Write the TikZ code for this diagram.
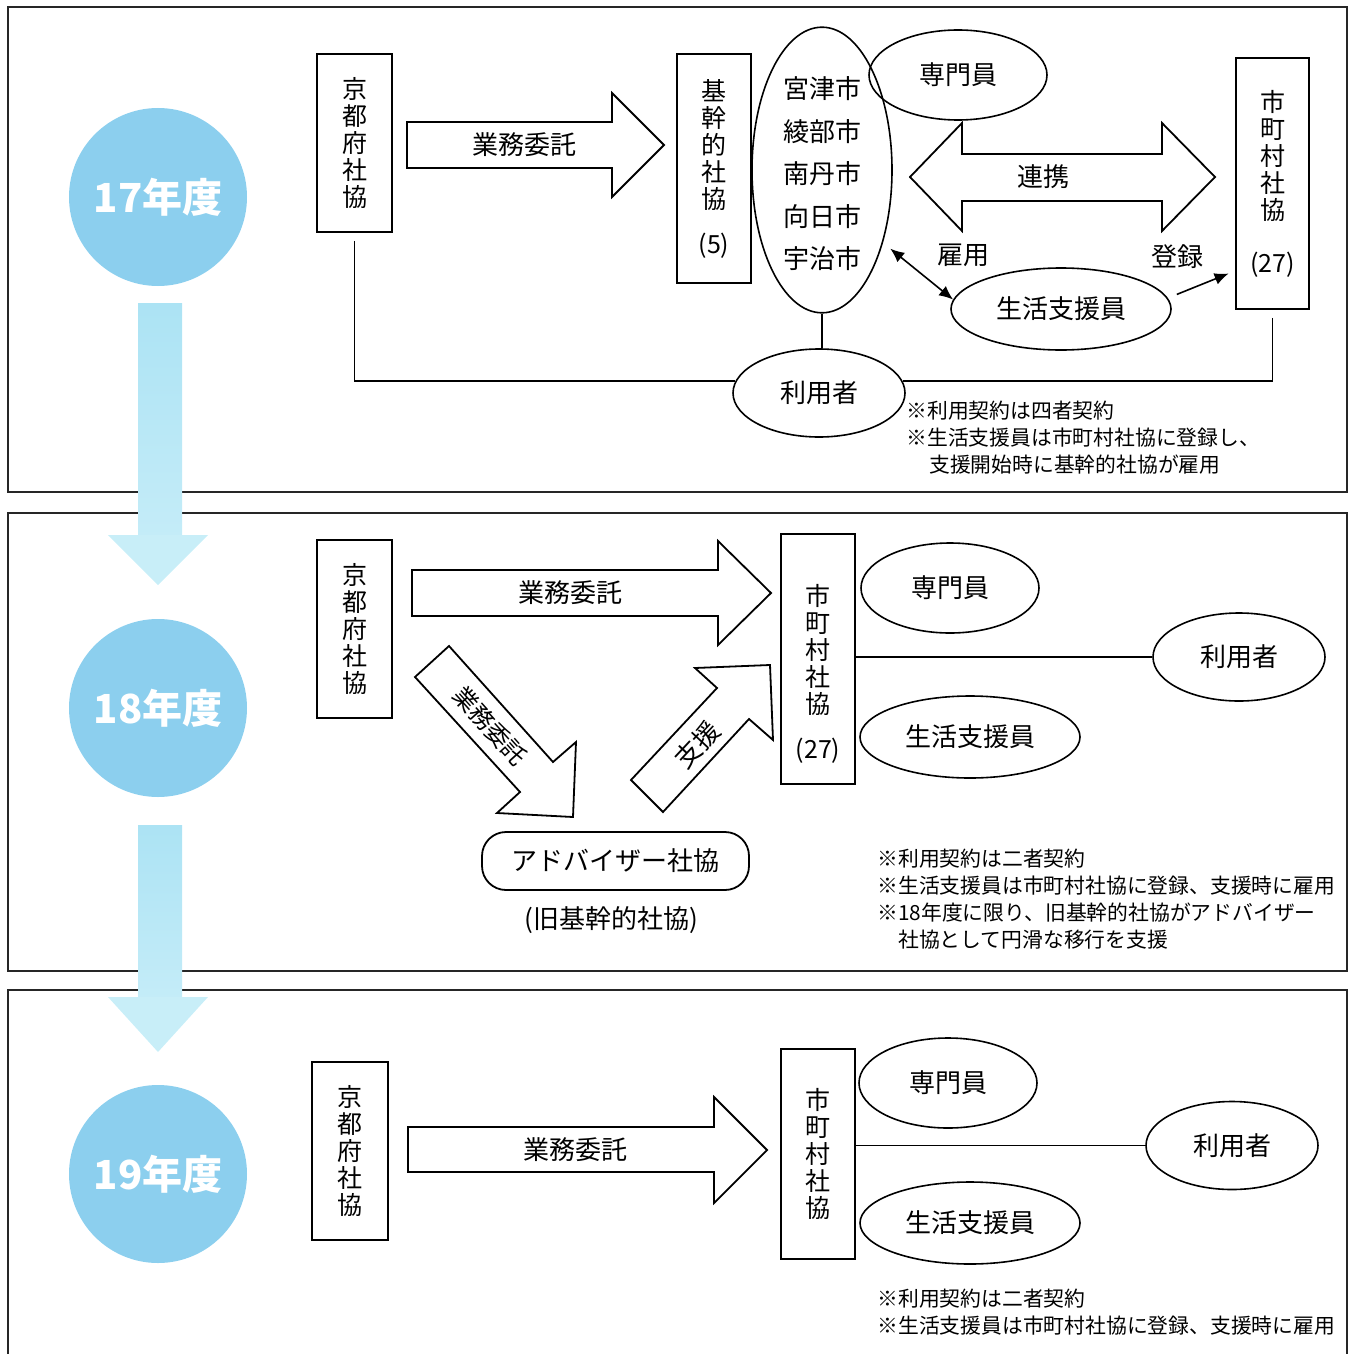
\documentclass[tikz,border=0pt]{standalone}
\usepackage{fontspec}
\setmainfont{Noto Sans CJK JP}
\usetikzlibrary{shapes.geometric,arrows.meta,calc}
\definecolor{yearblue}{HTML}{8CCFEE}
\definecolor{coltop}{HTML}{ACE3F4}
\definecolor{colbot}{HTML}{C4ECF8}
\definecolor{headblue}{HTML}{C8EEF8}
\begin{document}
\begin{tikzpicture}[x=0.5pt,y=-0.5pt,
  frame/.style={draw=black!85,line width=1pt},
  vbox/.style={draw,line width=0.9pt,fill=white,inner sep=0pt,align=center,font=\fontsize{12.5}{13.5}\selectfont},
  oval/.style={draw,ellipse,line width=0.8pt,inner sep=0pt,font=\fontsize{13}{15}\selectfont},
  bigarr/.style={draw,line width=0.9pt,fill=white,line join=miter},
  lbl/.style={font=\fontsize{13}{15}\selectfont,inner sep=0pt},
  note/.style={font=\fontsize{10.4}{13.5}\selectfont,align=left,inner sep=0pt,anchor=north west},
  yearc/.style={circle,fill=yearblue,minimum size=89pt,text=white,inner sep=0pt,font=\fontsize{20}{22}\selectfont\bfseries},
  conn/.style={line width=0.8pt},
  tip/.style={line width=0.8pt,-{Latex[length=7pt,width=6pt]}},
  dbltip/.style={line width=0.8pt,{Latex[length=7pt,width=6pt]}-{Latex[length=7pt,width=6pt]}},
  adv/.style={draw,rounded corners=12pt,line width=0.9pt,minimum width=133.5pt,minimum height=29pt,inner sep=0pt,font=\fontsize{13}{15}\selectfont}
]
\useasboundingbox (0,0) rectangle (1354,1354);
\clip (0,0) rectangle (1354,1354);

% panel frames
\draw[frame] (8,7) rectangle (1347,492);
\draw[frame] (8,513) rectangle (1347,971);
\draw[frame] (8,1380) -- (8,990) -- (1347,990) -- (1347,1380);

% year flow columns
\shade[top color=coltop,bottom color=colbot] (138,303) rectangle (182,536);
\fill[headblue] (108,535) -- (208,535) -- (158,585) -- cycle;
\shade[top color=coltop,bottom color=colbot] (138,825) rectangle (182,998);
\fill[headblue] (108,997) -- (208,997) -- (158,1052) -- cycle;

% year circles
\node[yearc] (y17) at (158,197) {17年度};
\node[yearc] (y18) at (158,708) {18年度};
\node[yearc] (y19) at (158,1174) {19年度};

% ---------------- panel 1 ----------------
\node[vbox,minimum width=37.5pt,minimum height=89pt] (k1) at (354.5,143) {京\\都\\府\\社\\協};
\draw[bigarr] (407,122) -- (612,122) -- (612,93) -- (664,145) -- (612,197) -- (612,168) -- (407,168) -- cycle;
\node[lbl] (a1) at (524,145) {業務委託};
\node[vbox,minimum width=37pt,minimum height=114.5pt] (b1) at (714,168.5) {基\\幹\\的\\社\\協\\[9pt](5)};
\node[oval,minimum width=70pt,minimum height=138pt,align=center,font=\fontsize{13}{21.25}\selectfont] (e1) at (822,170) {\rule{0pt}{14.9pt}宮津市\\綾部市\\南丹市\\向日市\\宇治市};
\node[oval,minimum width=89pt,minimum height=45pt] (p1) at (958,75) {専門員};
\draw[bigarr] (910,177) -- (962,123) -- (962,154) -- (1162,154) -- (1162,123) -- (1215,177) -- (1162,231) -- (1162,201) -- (962,201) -- (962,231) -- cycle;
\node[lbl] (c1) at (1043,177) {連携};
\node[vbox,minimum width=36.5pt,minimum height=125.5pt] (m1) at (1272.5,183.5) {市\\町\\村\\社\\協\\[13pt](27)};
\node[lbl] (h1) at (963,255) {雇用};
\node[lbl] (r1) at (1177,257) {登録};
\node[oval,minimum width=110pt,minimum height=41pt] (s1) at (1061,309) {生活支援員};
\node[oval,minimum width=86pt,minimum height=44pt] (u1) at (819,393) {利用者};

\draw[conn] ([yshift=-4pt]k1.south) |- (u1.172);
\draw[conn] ([yshift=-4pt]m1.south) |- (u1.8);
\draw[conn] (e1.south) -- (e1.south |- u1.north);
\draw[dbltip] ([xshift=4.5pt]e1.-53) -- (s1.175);
\draw[tip,shorten >=3.5pt] ([xshift=6pt]s1.8) -- ($(m1.south west)+(0,-39)$);

\node[note] (n1) at (906,401) {※利用契約は四者契約\\※生活支援員は市町村社協に登録し、\\\hspace*{1.1em}支援開始時に基幹的社協が雇用};

% ---------------- panel 2 ----------------
\node[vbox,minimum width=37.5pt,minimum height=89pt] (k2) at (354.5,629) {京\\都\\府\\社\\協};
\draw[bigarr] (412,570) -- (718,570) -- (718,541) -- (771,593) -- (718,645) -- (718,616) -- (412,616) -- cycle;
\node[lbl] (a2) at (570,593) {業務委託};
\draw[bigarr] (449,646) -- (553,762) -- (576,742) -- (573,817) -- (497,813) -- (520,792) -- (415,677) -- cycle;
\node[lbl,rotate=-48,font=\fontsize{12}{14}\selectfont] (a3) at (490,726) {業務委託};
\draw[bigarr] (631,780) -- (717,688) -- (695,668) -- (770,665) -- (773,740) -- (749,719) -- (663,812) -- cycle;
\node[lbl,rotate=47] (a4) at (697,745) {支援};
\node[vbox,minimum width=37pt,minimum height=125pt] (m2) at (818,659) {\rule{0pt}{25.5pt}市\\町\\村\\社\\協\\[9pt](27)};
\node[oval,minimum width=89pt,minimum height=45pt] (p2) at (950,588) {専門員};
\node[oval,minimum width=86pt,minimum height=44pt] (u2) at (1239,657) {利用者};
\node[oval,minimum width=110pt,minimum height=41pt] (s2) at (970,737) {生活支援員};
\node[adv] (ad) at (615.5,861) {アドバイザー社協};
\node[lbl] (old) at (611,920) {(旧基幹的社協)};
\draw[conn] (m2.east |- u2.west) -- (u2.west);

\node[note] (n2) at (877,849) {※利用契約は二者契約\\※生活支援員は市町村社協に登録、支援時に雇用\\※18年度に限り、旧基幹的社協がアドバイザー\\\hspace*{1em}社協として円滑な移行を支援};

% ---------------- panel 3 ----------------
\node[vbox,minimum width=38pt,minimum height=89pt] (k3) at (350,1151) {京\\都\\府\\社\\協};
\draw[bigarr] (408,1127) -- (714,1127) -- (714,1097) -- (767,1150) -- (714,1203) -- (714,1172) -- (408,1172) -- cycle;
\node[lbl] (a5) at (575,1150) {業務委託};
\node[vbox,minimum width=37pt,minimum height=105pt] (m3) at (818,1154) {市\\町\\村\\社\\協};
\node[oval,minimum width=89pt,minimum height=45pt] (p3) at (948,1083) {専門員};
\node[oval,minimum width=86pt,minimum height=44pt] (u3) at (1232,1145.5) {利用者};
\node[oval,minimum width=110pt,minimum height=41pt] (s3) at (970,1223) {生活支援員};
\draw[conn] (m3.east |- u3.west) -- (u3.west);

\node[note] (n3) at (877,1289) {※利用契約は二者契約\\※生活支援員は市町村社協に登録、支援時に雇用};
\end{tikzpicture}
\end{document}
